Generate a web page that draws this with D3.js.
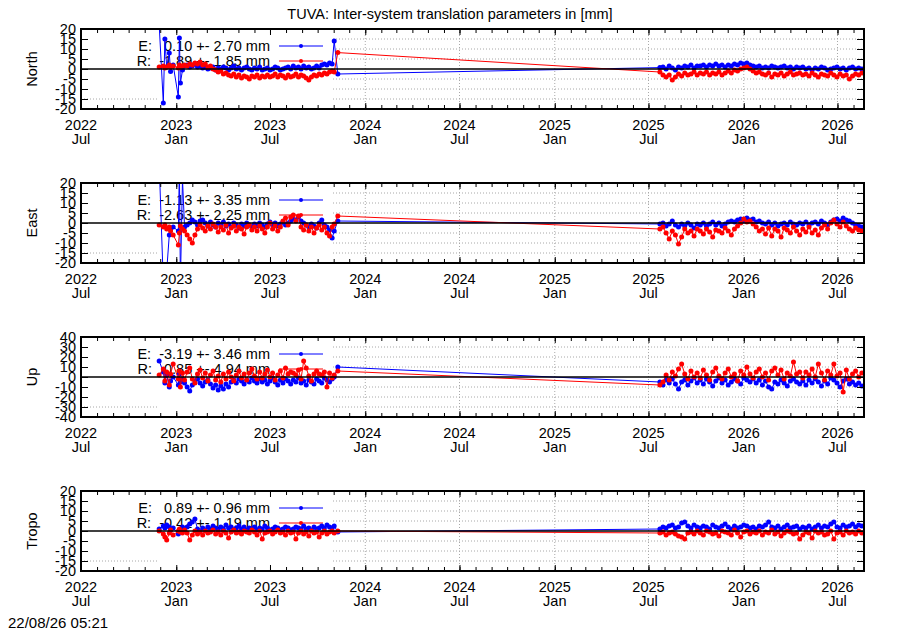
<!DOCTYPE html>
<html>
<head>
<meta charset="utf-8">
<script src="https://cdn.jsdelivr.net/npm/d3@7"></script>
<style>
  body { margin: 0; background: #fff; }
  svg { font-family: "Liberation Sans", Arial, sans-serif; }
</style>
</head>
<body>
<div id="chart"></div>
<script>
// epochs, in days since 2022-07-01
const earlyDays = [151, 159, 162, 165.5, 170.5, 173, 178, 188, 190, 192, 196];
const seg1Days = d3.range(200, 486, 5);
const tailDays = [489, 496];
const seg2Days = d3.range(1118, 1509, 6);

const panelNames = ["North", "East", "Up", "Tropo"];
const panelLimits = [20, 20, 40, 20];
const panelSteps = [5, 5, 10, 5];
const legendE = ["E:   0.10 +- 2.70 mm", "E:  -1.13 +- 3.35 mm", "E:  -3.19 +- 3.46 mm", "E:   0.89 +- 0.96 mm"];
const legendR = ["R:  -1.89 +- 1.85 mm", "R:  -2.63 +- 2.25 mm", "R:   0.85 +- 4.94 mm", "R:  -0.42 +- 1.19 mm"];

// North
const northE1 = [22, -17, 15, 1, 8, -1.3, 2, -14, 15.5, -7, -0.5,
  1.5, 2, 1, 1.5, 2.5, 1, 1.5, 0.5, 1, 0,
  0.5, 1, -0.5, 0.5, 0, 1, 0.5, -0.5, 0.5, 1.5,
  0, 0.5, -0.5, 0.5, 1, 0, -0.5, 0.5, 0, 1,
  -0.5, 0, 0.5, -0.5, 0, 1, 0.5, -0.5, 0, 0.5,
  1, 0, 1.5, 0.5, 1, 0, 1.5, 0.5, 1, 0,
  0.5, 1.5, 0.5, 2, 2.5, 2, 3, 2.5,
  14, -2.5];
const northR1 = [1, 1.5, 0.5, 1, 2, 1, 1.5, 0.5, 2, 1, 1.5,
  2, 1.5, 2.5, 2, 3, 2.5, 3.5, 2, 2.5, 1,
  1.5, 0, -0.5, -1.5, -1, -2.5, -2, -3, -3.5, -2.5,
  -4, -3, -4.5, -3.5, -4, -5, -3.5, -4, -3, -4.5,
  -3.5, -4, -3, -4, -3.5, -2.5, -4, -3, -3.5, -4.5,
  -3, -4, -3.5, -2.5, -4, -3, -3.5, -4.5, -5.5, -4,
  -3, -3.5, -2.5, -3, -2, -2.5, -1.5, -1,
  -1.5, 8.2];
const northE2 = [0.7, 1, 0, 1.5, 0.5, -0.5, 1, 0.5, 1.5, 1, 2, 0.5, 1.5,
  1.5, 2, 1, 2, 1.5, 2.5, 1.5, 2, 1, 2, 1.5, 2.5, 2, 3, 2.5, 3,
  2, 1.5, 1, 1.5, 0.5, 1, 0.5, 1.5, 1, 0.5, 1, 1.5, 0.5, 1, 0, 1, 0.5,
  1, 0, 0.5, -0.5, 0.5, 0, 1, 0.5, -0.5, 0, 0.5, 1, 0, 0.5, -0.5, 0.5, 1, 0, 0.5, 0];
const northR2 = [-1.5, -3, -4, -3, -5.5, -4, -2.5, -3.5, -2, -3, -2.5, -1.5, -3,
  -2, -2.5, -1.5, -3, -2, -2.5, -1.5, -3, -2, -1, -2, -0.5, -1, 0, 0.5, 1,
  0, -1, -2, -1.5, -2.5, -3, -2, -4, -2.5, -3, -2, -3.5, -2.5, -1.5, -3, -2.5, -2,
  -3, -2.5, -3.5, -2, -3, -4, -2.5, -3, -3.5, -2, -3, -4, -2.5, -3.5, -3, -5, -3.5, -2.5, -3, -2];

// East
const eastE1 = [30, -30, -26, -24, -6, -3, -2, -4, 28, -30, 22,
  -2, -1, 0, 1.5, 0.5, -1, 1, 1.5, 0, -1.5,
  0.5, -1, -2, 0, -1, 0.5, -1.5, -0.5, -2, 0,
  -1, -2.5, -0.5, -1.5, 0, -1, -2, -0.5, -1.5, 0,
  -1, -2, -0.5, 0.5, -1, 0, -1.5, -0.5, 0.5, -1,
  0, 1, 2, 1.5, 3, 1, 0, -1, -2, -0.5,
  -1.5, -2.5, 0, 1.5, -1, -2, -3.5, -7.5,
  -4, 1];
const eastR1 = [-1, -2, -1, -3, -2, -4, -6, -11, -5, -1.5, -3,
  -4, -6, -8, -10, -6, -3, -1, -2.5, -4, -1.5,
  -3, -0.5, -2, -4.5, -2, -3.5, -1, -5, -2.5, -1.5,
  -4, -2, -3, -5.5, -2, -1, -3.5, -2, -4, -1.5,
  -3, -5, -2, 0, -3, -1.5, -4, -2, 1, 2.5,
  -1, 3, 4, 1, 3.5, -2, -3.5, -1, -4, -2,
  -5, -2.5, -1, -3.5, -2, -5, -6.5, -2,
  -0.5, 3.5];
const eastE2 = [-0.5, 0, -1.5, -0.5, 1, -1, -2, -0.5, -1.5, 0, -1, -2.5, -0.5,
  -1, 0, -1.5, -0.5, 0.5, -1, 0, -1.5, -0.5, 0.5, 1, 0.5, 1.5, 2, 1, 2.5,
  1.5, 2, 0.5, 1, 0, -0.5, 0.5, -1, 0, -1.5, -0.5, 0, -1, 0.5, -0.5, -1, 0,
  -0.5, 0.5, -1, 0, 0.5, -0.5, 1, 0, -1, 0.5, 1.5, 2, 1, 2.5, 1.5, 1, 0, -1, -1.5, -2];
const eastR2 = [-3, -2, -5, -8, -4, -6, -10.5, -7, -3, -5, -4, -6.5, -3,
  -4, -5.5, -3, -4.5, -7, -3.5, -4, -5, -2.5, -4, -6, -3, -1.5, 0, 2, 0.5,
  1, -0.5, -2, -4, -3, -5.5, -2.5, -6.5, -3, -4, -7, -2.5, -3.5, -5, -2, -4, -6,
  -3, -4.5, -2, -5, -3.5, -6, -2.5, -1, -3, 0, 1.5, -0.5, -2, 0.5, -1.5, -3, -4, -2.5, -3.5, -4];

// Up
const upE1 = [16, 5, -6, 2, -10, -4, 0, -8, 3, -5, -2,
  -6, -10, -14, -8, -4, -2, -6, -9, -5, -3,
  -7, -11, -8, -13, -9, -12, -7, -10, -5, -3,
  -6, -2, -4, -7, -3, -5, -1, -4, -6, -2,
  -5, -3, -7, -4, -1, -5, -8, -3, -6, -2,
  -4, -7, -3, -5, -1, -6, -4, -8, -3, -5,
  -7, -2, -4, -6, -1, -3, -5, -2,
  0, 10];
const upR1 = [2, 8, -4, 5, -8, 3, 13, -2, 6, -10, 4,
  -3, 5, 9, -2, -6, 3, 7, -1, 4, -4,
  2, 6, -3, 1, -5, 3, -2, 5, 0, -4,
  2, 6, -1, 3, -3, 4, 8, 1, -2, 5,
  -1, 3, 7, 0, 4, -3, 2, 6, -1, 9,
  3, 5, 4, 2, 7, -2, 16, 9, 1, -4,
  3, 6, 3, 2, 5, -10, 4, -1,
  2, 6];
const upE2 = [-5, -8, -3, -6, -2, -7, -12, -5, -3, -8, -4, -1, -6,
  -3, -7, -2, -5, -9, -4, -1, -6, -3, -8, -5, -2, -4, -7, -1, -3,
  -5, -2, -6, -3, -8, -4, -10, -12, -5, -7, -3, -6, -9, -4, -2, -5, -7,
  -4, -8, -3, -6, -2, -5, -9, -4, -7, -1, -3, -6, -10, -4, -2, -7, -5, -8, -6, -9];
const upR2 = [-8, -5, 2, -3, 5, 1, 8, 13, 3, -2, 6, 0, 4,
  -1, 7, 2, -3, 5, 9, 1, -2, 4, 8, 0, 3, -4, 6, 2, 10,
  3, -1, 5, 8, 0, 4, -3, 6, 9, 2, 7, -2, 4, 1, 15, 3, 5,
  -1, 5, 2, 8, 0, 13, 4, -3, 6, 2, 13, 1, 4, -15, 7, -2, 3, 6, 0, 4];

// Tropo
const tropoE1 = [1, 2.5, 1.5, 3, 2, 0.5, 1.5, -1.5, 0, 1, 2,
  1, 2, 3.5, 4.5, 6, 1, 0, 1.5, 0.5, 2,
  1, 2.5, 1.5, 0.5, 2, 1, 3, 1.5, 2, 0.5,
  1.5, 2.5, 1, 2, 0.5, 1.5, 1, 2, 0.5, 1.5,
  1, 2.5, 1.5, 0.5, 1, 2, 1.5, 0.5, 1, 2,
  1.5, 0.5, 1, 2, 1.5, 1, 2.5, 1, 1.5, 0.5,
  2, 1, 1.5, 2.5, 1.5, 3, 2, 1.5,
  2.5, -0.5];
const tropoR1 = [0, -1.5, -3, -4.5, -1, 0.5, -2, 0, 1, -0.5, -1,
  0.5, -1, -4.5, -2, 0, -1.5, -0.5, -2, 0, -1,
  -0.5, 0.5, -1.5, -0.5, -2, 0, -1, -3.5, -0.5, 0.5,
  -1, -0.5, -1.5, 0, -0.5, -1, 0.5, -0.5, -2, 0,
  -4, -1, -0.5, 0, -1.5, -0.5, 0.5, -1, -0.5, -2,
  0, -1, -0.5, -4, -1, 0, -1.5, -0.5, -2.5, 0,
  -1, -0.5, -3, -1, 0, -1.5, -0.5, 0,
  -1, 0];
const tropoE2 = [1, 2, 1.5, 2.5, 3, 1.5, 2, 4, 4.5, 2.5, 1.5, 3, 2,
  1.5, 2.5, 2, 1, 3, 2, 1.5, 2.5, 3.5, 2, 1, 2.5, 1.5, 2, 3, 2.5,
  1.5, 2, 1, 2.5, 2, 3, 4.5, 2, 1.5, 2.5, 1, 2, 3, 1.5, 2, 2.5, 1,
  2, 1.5, 2.5, 1, 2, 3, 1.5, 2.5, 2, 3.5, 4.5, 2, 1.5, 3, 2, 2.5, 3.5, 2, 3, 2.5];
const tropoR2 = [-1, -0.5, -2, -1, -0.5, -1.5, -2.5, -3, -4, -1, -0.5, -1.5, 0,
  -1, -2, 0, -0.5, -1.5, -1, -2.5, 0, -0.5, -1, -2, 0.5, -1, -3, -0.5, 0,
  -1.5, -0.5, -1, 0, -2, -0.5, -1, 0.5, -1.5, -0.5, -2.5, -1, 0, -0.5, -1.5, -1, -4,
  -2, -0.5, -1, -3.5, 0, -1, -0.5, -2, -1.5, 0, -4, -1, -0.5, -2, 0, -1, -0.5, -1.5, 0, -1];

const seriesE = [[...northE1, ...northE2], [...eastE1, ...eastE2], [...upE1, ...upE2], [...tropoE1, ...tropoE2]];
const seriesR = [[...northR1, ...northR2], [...eastR1, ...eastR2], [...upR1, ...upR2], [...tropoR1, ...tropoR2]];

const DAY = 864e5;
const base = Date.UTC(2022, 6, 1);
const dates = [...earlyDays, ...seg1Days, ...tailDays, ...seg2Days].map(d => new Date(base + d * DAY));

[...seriesE, ...seriesR].forEach((s, k) => {
    if (s.length !== dates.length) throw new Error("series " + k + " has " + s.length + " values, expected " + dates.length);
});

const W = 900, H = 630;
const left = 81, right = 864, ph = 80;
const tops = [29, 183, 337, 491];
const fontSize = 14.5;

const x = d3.scaleUtc()
    .domain([new Date(base), new Date(base + 1512.2 * DAY)])
    .range([left, right]);
const majorX = x.ticks(d3.utcMonth.every(6));
const fmtYear = d3.utcFormat("%Y"), fmtMonth = d3.utcFormat("%b");

const svg = d3.select("#chart").append("svg")
    .attr("width", W)
    .attr("height", H);

svg.append("rect").attr("width", W).attr("height", H).attr("fill", "#fff");

svg.append("text")
    .attr("x", 450)
    .attr("y", 19)
    .attr("text-anchor", "middle")
    .attr("font-size", 14.5)
    .text("TUVA: Inter-system translation parameters in [mm]");

const colors = { E: "#0000ff", R: "#ff0000" };

panelNames.forEach((name, i) => {
    const top = tops[i], bot = top + ph;
    const lim = panelLimits[i];
    const y = d3.scaleLinear().domain([-lim, lim]).range([bot, top]);
    const yTicks = d3.range(-lim, lim + 0.001, panelSteps[i]);
    const g = svg.append("g");

    // grid
    g.selectAll(".gy")
        .data(yTicks.filter(v => v !== 0 && Math.abs(v) !== lim))
        .enter().append("line")
        .attr("x1", left).attr("x2", right)
        .attr("y1", d => y(d)).attr("y2", d => y(d))
        .attr("stroke", "#a8a8a8")
        .attr("stroke-dasharray", "1,2");
    g.selectAll(".gx")
        .data(majorX.filter(d => x(d) > left + 1 && x(d) < right - 1))
        .enter().append("line")
        .attr("x1", d => x(d)).attr("x2", d => x(d))
        .attr("y1", top).attr("y2", bot)
        .attr("stroke", "#a8a8a8")
        .attr("stroke-dasharray", "1,2");

    // opaque key box and blanked first-period area
    g.append("rect")
        .attr("x", left).attr("y", top)
        .attr("width", 333 - left).attr("height", 66)
        .attr("fill", "#fff");
    g.append("rect")
        .attr("x", 157).attr("y", top)
        .attr("width", 333 - 157).attr("height", ph)
        .attr("fill", "#fff");

    // key
    [[legendE[i], colors.E], [legendR[i], colors.R]].forEach(([label, col], k) => {
        const ly = top + 17 + 15 * k;
        g.append("text")
            .attr("x", 270)
            .attr("y", ly + 5)
            .attr("text-anchor", "end")
            .attr("font-size", fontSize)
            .style("white-space", "pre")
            .text(label);
        g.append("line")
            .attr("x1", 279).attr("x2", 323)
            .attr("y1", ly).attr("y2", ly)
            .attr("stroke", col);
        g.append("circle")
            .attr("cx", 301).attr("cy", ly).attr("r", 2)
            .attr("fill", col);
    });

    // data
    const clipId = "clip" + i;
    svg.append("clipPath").attr("id", clipId)
        .append("rect")
        .attr("x", left).attr("y", top)
        .attr("width", right - left).attr("height", ph);
    const dg = g.append("g").attr("clip-path", `url(#${clipId})`);
    const line = d3.line()
        .x((d, j) => x(dates[j]))
        .y(d => y(d));
    [[seriesE[i], colors.E], [seriesR[i], colors.R]].forEach(([vals, col]) => {
        dg.append("path")
            .attr("d", line(vals))
            .attr("fill", "none")
            .attr("stroke", col)
            .attr("stroke-width", 1);
        dg.selectAll(null)
            .data(vals)
            .enter().append("circle")
            .attr("cx", (d, j) => x(dates[j]))
            .attr("cy", d => y(d))
            .attr("r", 2.5)
            .attr("fill", col);
    });

    // zero line
    g.append("line")
        .attr("x1", left).attr("x2", right)
        .attr("y1", y(0)).attr("y2", y(0))
        .attr("stroke", "#000")
        .attr("stroke-width", 1.5);

    // ticks
    const tk = sel => sel.call(a => a.select(".domain").remove())
        .call(a => a.selectAll("line").attr("stroke", "#000"));
    g.append("g").attr("transform", `translate(0,${bot})`)
        .call(d3.axisBottom(x).ticks(d3.utcMonth.every(1)).tickSize(-4).tickFormat("")).call(tk);
    g.append("g").attr("transform", `translate(0,${top})`)
        .call(d3.axisTop(x).ticks(d3.utcMonth.every(1)).tickSize(-4).tickFormat("")).call(tk);
    g.append("g").attr("transform", `translate(0,${bot})`)
        .call(d3.axisBottom(x).tickValues(majorX).tickSize(-6).tickFormat("")).call(tk);
    g.append("g").attr("transform", `translate(0,${top})`)
        .call(d3.axisTop(x).tickValues(majorX).tickSize(-6).tickFormat("")).call(tk);
    g.append("g").attr("transform", `translate(${left},0)`)
        .call(d3.axisLeft(y).tickValues(yTicks).tickSize(-7).tickFormat("")).call(tk);
    g.append("g").attr("transform", `translate(${right},0)`)
        .call(d3.axisRight(y).tickValues(yTicks).tickSize(-7).tickFormat("")).call(tk);

    // border
    g.append("rect")
        .attr("x", left).attr("y", top)
        .attr("width", right - left).attr("height", ph)
        .attr("fill", "none")
        .attr("stroke", "#000")
        .attr("stroke-width", 2);

    // y tick labels
    g.selectAll(".yl")
        .data(yTicks)
        .enter().append("text")
        .attr("x", 76)
        .attr("y", d => y(d) + 5)
        .attr("text-anchor", "end")
        .attr("font-size", fontSize)
        .text(d => d);

    // x tick labels
    const xl = g.selectAll(".xl")
        .data(majorX)
        .enter().append("text")
        .attr("text-anchor", "middle")
        .attr("font-size", fontSize);
    xl.append("tspan").attr("x", d => x(d)).attr("y", bot + 21).text(fmtYear);
    xl.append("tspan").attr("x", d => x(d)).attr("y", bot + 35).text(fmtMonth);

    // axis title
    g.append("text")
        .attr("transform", `translate(36.5,${top + ph / 2}) rotate(-90)`)
        .attr("text-anchor", "middle")
        .attr("font-size", fontSize)
        .text(name);
});

svg.append("text")
    .attr("x", 8)
    .attr("y", 628)
    .attr("font-size", 15)
    .text("22/08/26 05:21");
</script>
</body>
</html>
